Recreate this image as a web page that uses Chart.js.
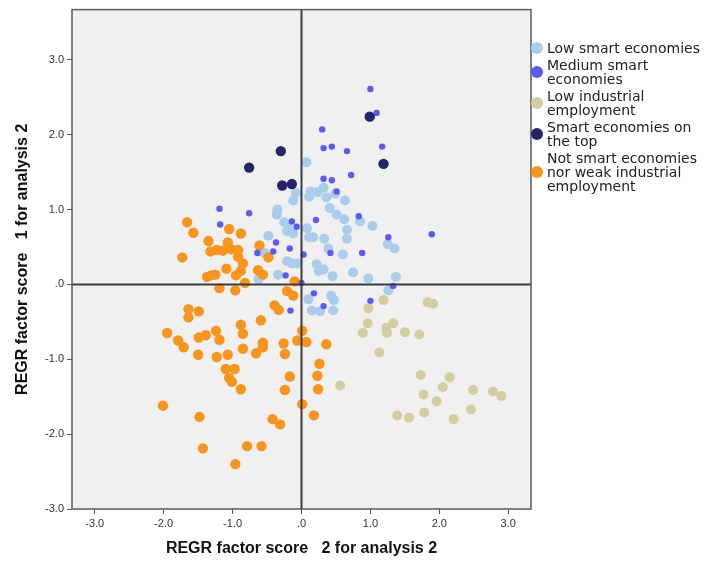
<!DOCTYPE html>
<html>
<head>
<meta charset="utf-8">
<script src="https://cdn.jsdelivr.net/npm/chart.js@4/dist/chart.umd.min.js"></script>
<style>
  html, body { margin: 0; padding: 0; background: #fff; overflow: hidden; }
  #wrap { position: relative; width: 704px; height: 561px; }
  #legend { position: absolute; left: 531px; top: 41px; width: 173px;
            font-family: 'DejaVu Sans', sans-serif; font-size: 14px; line-height: 14px; color: #222; }
  .item { display: flex; align-items: center; margin-bottom: 3px; white-space: nowrap; }
  .dot { display: inline-block; width: 12px; height: 12px; border-radius: 50%; margin-right: 4px; flex: none; }
</style>
</head>
<body>
<div id="wrap">
  <canvas id="c" width="704" height="561"></canvas>
  <div id="legend"></div>
</div>
<script>
// ---- Data ----
const seriesNames = [
  'Low smart economies',
  'Medium smart economies',
  'Low industrial employment',
  'Smart economies on the top',
  'Not smart economies nor weak industrial employment'
];
const legendLines = [
  ['Low smart economies'],
  ['Medium smart', 'economies'],
  ['Low industrial', 'employment'],
  ['Smart economies on', 'the top'],
  ['Not smart economies', 'nor weak industrial', 'employment']
];
const xTicks = [-3, -2, -1, 0, 1, 2, 3];
const yTicks = [-3, -2, -1, 0, 1, 2, 3];
const xTitle = 'REGR factor score   2 for analysis 2';
const yTitle = 'REGR factor score   1 for analysis 2';

const lowSmartX = [0.07,-0.08,-0.12,0.13,0.11,0.23,0.32,0.36,0.49,0.63,-0.35,-0.36,0.41,0.51,0.62,-0.25,-0.19,-0.12,-0.48,0.08,0.11,0.17,0.33,0.66,0.66,0.85,1.03,-0.54,-0.21,-0.14,-0.06,-0.34,-0.62,0.22,0.25,0.32,0.45,0.75,0.97,0.39,0.60,1.25,1.35,1.37,1.26,0.10,0.43,0.47,0.15,0.27,0.46,-0.21];
const lowSmartY = [1.63,1.22,1.12,1.24,1.17,1.23,1.29,1.16,1.21,1.12,1.00,0.93,1.02,0.93,0.87,0.83,0.74,0.68,0.65,0.75,0.63,0.63,0.61,0.73,0.61,0.84,0.78,0.42,0.31,0.28,0.28,0.13,0.07,0.27,0.18,0.20,0.11,0.16,0.08,0.48,0.40,0.54,0.48,0.10,-0.08,-0.20,-0.15,-0.21,-0.35,-0.36,-0.35,0.71];

const mediumSmartX = [1.00,1.09,0.30,0.32,0.44,0.66,1.17,0.72,0.32,0.44,0.51,-0.76,0.83,0.21,-0.14,-0.07,-1.19,-1.18,-0.37,-0.17,-0.64,-0.41,0.03,0.42,0.88,1.26,1.89,-0.23,0.00,1.33,0.18,1.00,0.32,-0.16];
const mediumSmartY = [2.61,2.29,2.07,1.82,1.84,1.78,1.84,1.46,1.41,1.39,1.24,0.95,0.91,0.86,0.84,0.77,1.01,0.80,0.56,0.48,0.42,0.44,0.40,0.42,0.42,0.63,0.67,0.12,0.02,-0.02,-0.12,-0.22,-0.29,-0.35];

const lowIndustrialX = [1.19,0.97,1.83,1.91,0.96,1.33,1.23,1.24,0.89,1.50,1.71,1.13,1.73,2.15,2.05,2.49,2.78,2.90,1.77,1.96,2.46,1.39,1.56,1.78,2.21,0.56];
const lowIndustrialY = [-0.21,-0.32,-0.24,-0.26,-0.52,-0.52,-0.58,-0.65,-0.65,-0.64,-0.67,-0.91,-1.21,-1.24,-1.37,-1.41,-1.43,-1.49,-1.47,-1.56,-1.67,-1.75,-1.78,-1.71,-1.80,-1.35];

const topSmartX = [-0.76,-0.30,-0.28,-0.14,0.99,1.19];
const topSmartY = [1.56,1.78,1.32,1.34,2.24,1.61];

const notSmartX = [-1.66,-1.57,-1.73,-1.35,-1.05,-0.88,-1.07,-1.32,-1.23,-1.14,-1.02,-0.92,-0.92,-0.85,-0.88,-0.61,-0.48,-1.09,-1.37,-1.31,-1.25,-0.95,-0.63,-0.56,-0.82,-1.19,-0.96,-0.10,-0.21,-0.12,-0.39,-0.33,-1.64,-1.64,-1.49,-0.59,-0.88,-1.95,-1.79,-1.71,-1.49,-1.39,-1.24,-1.19,-0.85,0.01,-0.85,-1.50,-1.23,-1.07,-0.66,-0.56,-0.56,-0.26,-0.24,-0.06,0.07,0.36,0.26,0.23,0.24,-1.10,-0.97,-1.05,-1.01,-0.88,-0.17,-0.24,0.01,0.18,-2.01,-1.48,-0.42,-0.31,-1.43,-0.79,-0.58,-0.96];
const notSmartY = [0.83,0.69,0.36,0.58,0.74,0.68,0.56,0.44,0.46,0.45,0.47,0.46,0.37,0.28,0.18,0.52,0.36,0.21,0.10,0.12,0.13,0.12,0.19,0.13,0.02,-0.05,-0.08,0.04,-0.09,-0.15,-0.28,-0.34,-0.33,-0.44,-0.36,-0.48,-0.54,-0.65,-0.75,-0.84,-0.71,-0.68,-0.62,-0.74,-0.66,-0.62,-0.86,-0.94,-0.97,-0.94,-0.92,-0.78,-0.84,-0.79,-0.93,-0.75,-0.77,-0.80,-1.06,-1.22,-1.40,-1.13,-1.13,-1.25,-1.30,-1.40,-1.23,-1.41,-1.60,-1.75,-1.62,-1.77,-1.80,-1.87,-2.19,-2.16,-2.16,-2.40];

const colors = ['#AACDEB', '#5B5BF0', '#D2CEA0', '#25246B', '#F7951E'];
const radii = [5, 3.2, 5, 5.2, 5.2];
const drawOrder = [4, 1, 3, 0, 2];

// ---- Build ----
function pts(xs, ys) { return xs.map((x, i) => ({ x: x, y: ys[i] })); }
const allX = [lowSmartX, mediumSmartX, lowIndustrialX, topSmartX, notSmartX];
const allY = [lowSmartY, mediumSmartY, lowIndustrialY, topSmartY, notSmartY];

const datasets = seriesNames.map((name, i) => ({
  label: name,
  data: pts(allX[i], allY[i]),
  backgroundColor: colors[i],
  borderWidth: 0,
  pointRadius: radii[i],
  pointHoverRadius: radii[i],
  order: drawOrder[i]
}));

const plotDecor = {
  id: 'plotDecor',
  beforeDatasetsDraw(chart) {
    const { ctx, chartArea: a } = chart;
    ctx.save();
    ctx.fillStyle = '#F0F0F0';
    ctx.fillRect(a.left, a.top, a.right - a.left, a.bottom - a.top);
    ctx.restore();
  },
  afterDatasetsDraw(chart) {
    const { ctx, chartArea: a, scales } = chart;
    const x0 = scales.x.getPixelForValue(0);
    const y0 = scales.y.getPixelForValue(0);
    ctx.save();
    ctx.strokeStyle = '#3c3c3c';
    ctx.lineWidth = 2;
    ctx.beginPath();
    ctx.moveTo(x0, a.top); ctx.lineTo(x0, a.bottom);
    ctx.moveTo(a.left, y0); ctx.lineTo(a.right, y0);
    ctx.stroke();
    ctx.strokeStyle = '#5a5a5a';
    ctx.lineWidth = 1.5;
    ctx.strokeRect(a.left, a.top, a.right - a.left, a.bottom - a.top);
    ctx.restore();
  }
};

function fmt(v) { return v === 0 ? '.0' : v.toFixed(1); }
const tickFont = { family: "'Liberation Sans', Arial, sans-serif", size: 11 };
const titleFont = { family: "'Liberation Sans', Arial, sans-serif", size: 16, weight: 'bold' };

new Chart(document.getElementById('c'), {
  type: 'scatter',
  data: { datasets: datasets },
  options: {
    responsive: false,
    animation: false,
    events: [],
    layout: { padding: { left: 0, right: 173, top: 9, bottom: 0 } },
    plugins: { legend: { display: false }, tooltip: { enabled: false } },
    scales: {
      x: {
        type: 'linear', min: -3.33, max: 3.33,
        afterBuildTicks(s) { s.ticks = xTicks.map(v => ({ value: v })); },
        afterFit(s) { s.height = 52; },
        border: { display: false },
        grid: { drawOnChartArea: false, drawTicks: true, tickLength: 5, color: '#555', lineWidth: 1 },
        ticks: { color: '#333', font: tickFont, padding: 3, maxRotation: 0, autoSkip: false, callback: fmt },
        title: { display: true, text: xTitle, color: '#111', font: titleFont, padding: { top: 0, bottom: 2.5 } }
      },
      y: {
        type: 'linear', min: -3.0, max: 3.67,
        afterBuildTicks(s) { s.ticks = yTicks.map(v => ({ value: v })); },
        afterFit(s) { s.width = 72; },
        border: { display: false },
        grid: { drawOnChartArea: false, drawTicks: true, tickLength: 5, color: '#555', lineWidth: 1 },
        ticks: { color: '#333', font: tickFont, padding: 3, autoSkip: false, callback: fmt },
        title: { display: true, text: yTitle, color: '#111', font: titleFont, padding: { top: 13, bottom: 0 } }
      }
    }
  },
  plugins: [plotDecor]
});

// HTML legend
const legend = document.getElementById('legend');
legendLines.forEach((lines, i) => {
  const item = document.createElement('div');
  item.className = 'item';
  const dot = document.createElement('span');
  dot.className = 'dot';
  dot.style.background = colors[i];
  const txt = document.createElement('span');
  txt.innerHTML = lines.map(l => l.replace(/&/g, '&amp;')).join('<br>');
  item.appendChild(dot);
  item.appendChild(txt);
  legend.appendChild(item);
});
</script>
</body>
</html>
